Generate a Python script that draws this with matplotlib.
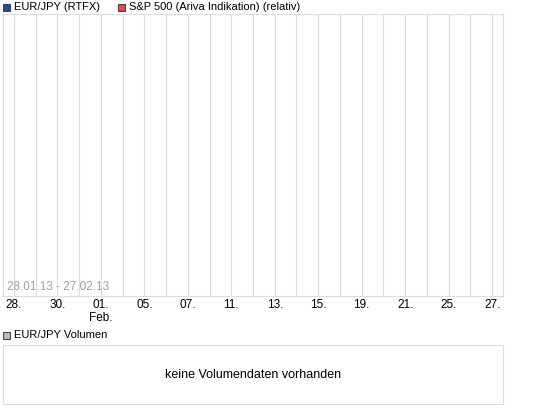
import matplotlib.pyplot as plt
from matplotlib.patches import Rectangle

plt.rcParams['font.family'] = ['Liberation Sans', 'DejaVu Sans']

# trading days shown on the x axis (Jan 28 - Feb 27, 2013)
days = ["28.", "29.", "30.", "31.", "01.", "04.", "05.", "06.", "07.", "08.",
        "11.", "12.", "13.", "14.", "15.", "18.", "19.", "20.", "21.", "22.",
        "25.", "26.", "27."]
tick_every = 2
legend_items = [("EUR/JPY (RTFX)", "#1f4e9c"), ("S&P 500 (Ariva Indikation) (relativ)", "#e05050")]
legend_x = [3, 118]
range_label = "28.01.13 - 27.02.13"
vol_label = "EUR/JPY Volumen"
no_data = "keine Volumendaten vorhanden"

W, H = 545, 413
fig = plt.figure(figsize=(W / 100, H / 100), dpi=100)

def px(x0, y0, x1, y1):
    return [x0 / W, 1 - y1 / H, (x1 - x0) / W, (y1 - y0) / H]

grid_c = "#dddddd"
ax = fig.add_axes(px(3, 14, 503, 296))
n = len(days)
ax.set_xlim(-0.5, n - 0.5)
ax.set_ylim(0, 1)
for i in range(n):
    ax.axvline(i, color=grid_c, lw=0.8)
ax.set_xticks(range(0, n, tick_every))
ax.set_xticklabels(days[::tick_every], fontsize=8.5)
ax.tick_params(axis='x', length=0, pad=2)
ax.set_yticks([])
for s in ax.spines.values():
    s.set_color(grid_c)
ax.text(4 / 500, 0.01, range_label, transform=ax.transAxes, fontsize=8.5,
        color="#a0a0a0", va='bottom')
ax.text(4, -0.055, "Feb.", transform=ax.get_xaxis_transform(), fontsize=8.5,
        ha='center', va='top')

# legend on top
for (label, col), x in zip(legend_items, legend_x):
    fig.patches.append(Rectangle((x / W, 1 - 11 / H), 7 / W, 7 / H, transform=fig.transFigure,
                                 facecolor=col, edgecolor="#444444", lw=0.8))
    fig.text((x + 11) / W, 1 - 7.5 / H, label, fontsize=8, va='center')

fig.patches.append(Rectangle((3 / W, 1 - 339 / H), 7 / W, 7 / H, transform=fig.transFigure,
                             facecolor="#bbbbbb", edgecolor="#444444", lw=0.8))
fig.text(14 / W, 1 - 335.5 / H, vol_label, fontsize=8, va='center')

ax2 = fig.add_axes(px(3, 345, 503, 404))
ax2.set_xticks([])
ax2.set_yticks([])
for s in ax2.spines.values():
    s.set_color(grid_c)
ax2.text(0.5, 0.5, no_data, transform=ax2.transAxes, ha='center', va='center', fontsize=9)

fig.savefig("out.png", dpi=100)
